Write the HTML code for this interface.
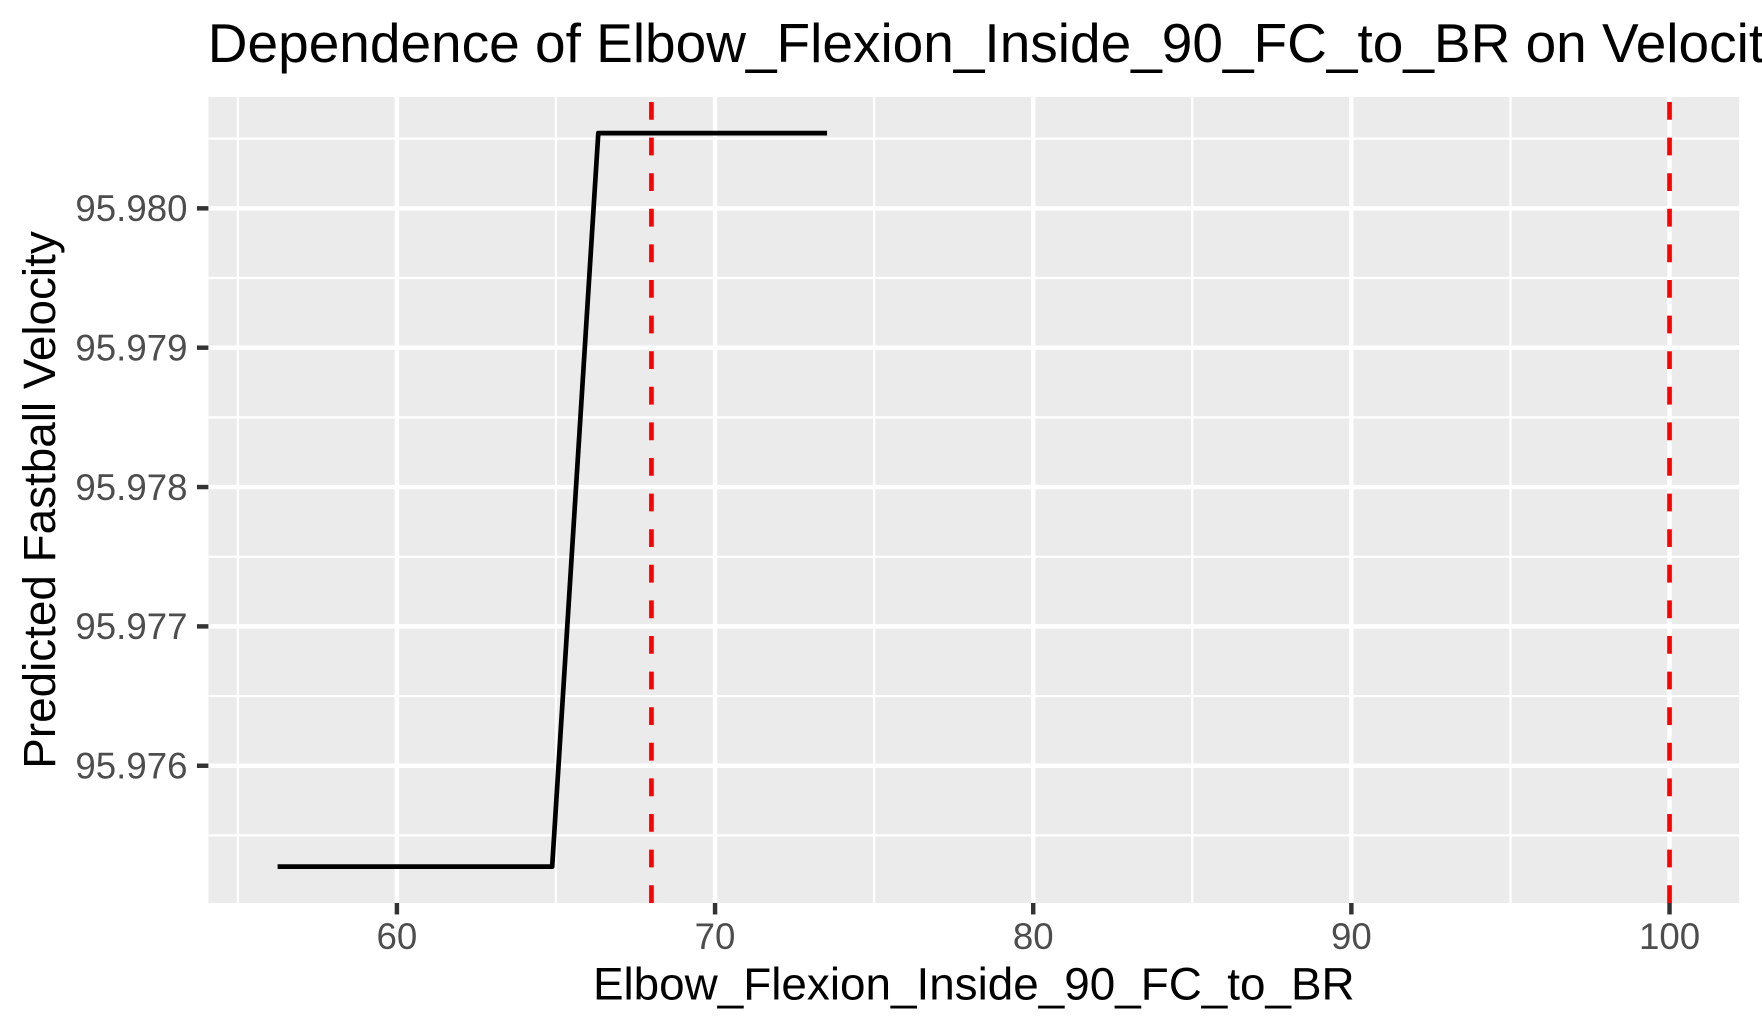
<!DOCTYPE html>
<html lang="en">
<head>
<meta charset="utf-8">
<title>Dependence of Elbow_Flexion_Inside_90_FC_to_BR on Velocity</title>
<style>
  html, body { margin: 0; padding: 0; background: #ffffff; }
  body { width: 1762px; height: 1032px; overflow: hidden; }
  svg { display: block; font-family: "Liberation Sans", Arial, sans-serif; }
</style>
</head>
<body>
<svg id="chart" xmlns="http://www.w3.org/2000/svg" width="1762" height="1032" viewBox="0 0 1762 1032">
  <rect x="0" y="0" width="1762" height="1032" fill="#ffffff"/>
  <rect x="208.4" y="97" width="1530.8" height="806" fill="#EBEBEB"/>
  <g id="grid"></g>
  <g id="marks"></g>
  <g id="axes"></g>
  <text x="207.8" y="62" font-size="55" fill="#000000">Dependence of Elbow_Flexion_Inside_90_FC_to_BR on Velocity</text>
  <text x="973.8" y="999.3" font-size="45.83" fill="#000000" text-anchor="middle">Elbow_Flexion_Inside_90_FC_to_BR</text>
  <text transform="translate(55 500) rotate(-90)" font-size="45.83" fill="#000000" text-anchor="middle">Predicted Fastball Velocity</text>
</svg>
<script>
// Chart data
const xDomain = [54.075, 102.19];
const yDomain = [95.975015, 95.980799];
const xMajorTicks = [60, 70, 80, 90, 100];
const xMinorTicks = [55, 65, 75, 85, 95];
const yMajorTicks = [95.976, 95.977, 95.978, 95.979, 95.980];
const yMinorTicks = [95.9755, 95.9765, 95.9775, 95.9785, 95.9795, 95.9805];
const xTickLabels = ['60', '70', '80', '90', '100'];
const yTickLabels = ['95.976', '95.977', '95.978', '95.979', '95.980'];
const curveX = [56.25, 64.88, 66.33, 73.52];
const curveY = [95.975276, 95.975276, 95.98054, 95.98054];
const referenceLines = [68, 100];

// Panel geometry and axis functions
const panelLeft = 208.4, panelRight = 1739.2, panelTop = 97, panelBottom = 903;
function xPos(v) {
  return panelLeft + (v - xDomain[0]) / (xDomain[1] - xDomain[0]) * (panelRight - panelLeft);
}
function yPos(v) {
  return panelBottom - (v - yDomain[0]) / (yDomain[1] - yDomain[0]) * (panelBottom - panelTop);
}

const SVGNS = 'http://www.w3.org/2000/svg';
const gridLayer = document.getElementById('grid');
const marksLayer = document.getElementById('marks');
const axesLayer = document.getElementById('axes');

function make(tag, props, parent) {
  const el = document.createElementNS(SVGNS, tag);
  Object.keys(props).forEach(function (k) { el.setAttribute(k, props[k]); });
  parent.appendChild(el);
  return el;
}

const MAJOR_W = 4.45, MINOR_W = 2.22, TICK_LEN = 11.46;

// Minor grid
yMinorTicks.forEach(function (v) {
  const el = make('line', { x1: panelLeft, x2: panelRight, y1: yPos(v), y2: yPos(v), stroke: '#ffffff', 'stroke-width': MINOR_W }, gridLayer);
  
  
});
xMinorTicks.forEach(function (v) {
  const el = make('line', { x1: xPos(v), x2: xPos(v), y1: panelTop, y2: panelBottom, stroke: '#ffffff', 'stroke-width': MINOR_W }, gridLayer);
  
  
});

// Major grid
yMajorTicks.forEach(function (v) {
  const el = make('line', { x1: panelLeft, x2: panelRight, y1: yPos(v), y2: yPos(v), stroke: '#ffffff', 'stroke-width': MAJOR_W }, gridLayer);
  
  
});
xMajorTicks.forEach(function (v) {
  const el = make('line', { x1: xPos(v), x2: xPos(v), y1: panelTop, y2: panelBottom, stroke: '#ffffff', 'stroke-width': MAJOR_W }, gridLayer);
  
  
});

// Partial dependence curve
const curvePoints = curveX.map(function (v, i) { return xPos(v) + ',' + yPos(curveY[i]); }).join(' ');
const curve = make('polyline', { points: curvePoints, fill: 'none', stroke: '#000000', 'stroke-width': 4.7, 'stroke-linejoin': 'round', 'stroke-linecap': 'butt' }, marksLayer);



// Dashed reference lines, drawn from the bottom of the panel upwards
referenceLines.forEach(function (v) {
  const el = make('line', { x1: xPos(v), x2: xPos(v), y1: panelBottom, y2: panelTop, stroke: '#FF0000', 'stroke-width': 4.7, 'stroke-dasharray': '17.8 17.8' }, marksLayer);
  
  
});

// X axis ticks and labels
xMajorTicks.forEach(function (v, i) {
  const tick = make('line', { x1: xPos(v), x2: xPos(v), y1: panelBottom, y2: panelBottom + TICK_LEN, stroke: '#333333', 'stroke-width': MAJOR_W }, axesLayer);
  
  
  const label = make('text', { x: xPos(v), y: 949, 'font-size': 36.67, fill: '#4D4D4D', 'text-anchor': 'middle' }, axesLayer);
  label.textContent = xTickLabels[i];
  
  
});

// Y axis ticks and labels
yMajorTicks.forEach(function (v, i) {
  const tick = make('line', { x1: panelLeft - TICK_LEN, x2: panelLeft, y1: yPos(v), y2: yPos(v), stroke: '#333333', 'stroke-width': MAJOR_W }, axesLayer);
  
  
  const label = make('text', { x: 187.5, y: yPos(v) + 12.8, 'font-size': 36.67, fill: '#4D4D4D', 'text-anchor': 'end' }, axesLayer);
  label.textContent = yTickLabels[i];
  
  
});
</script>
</body>
</html>
